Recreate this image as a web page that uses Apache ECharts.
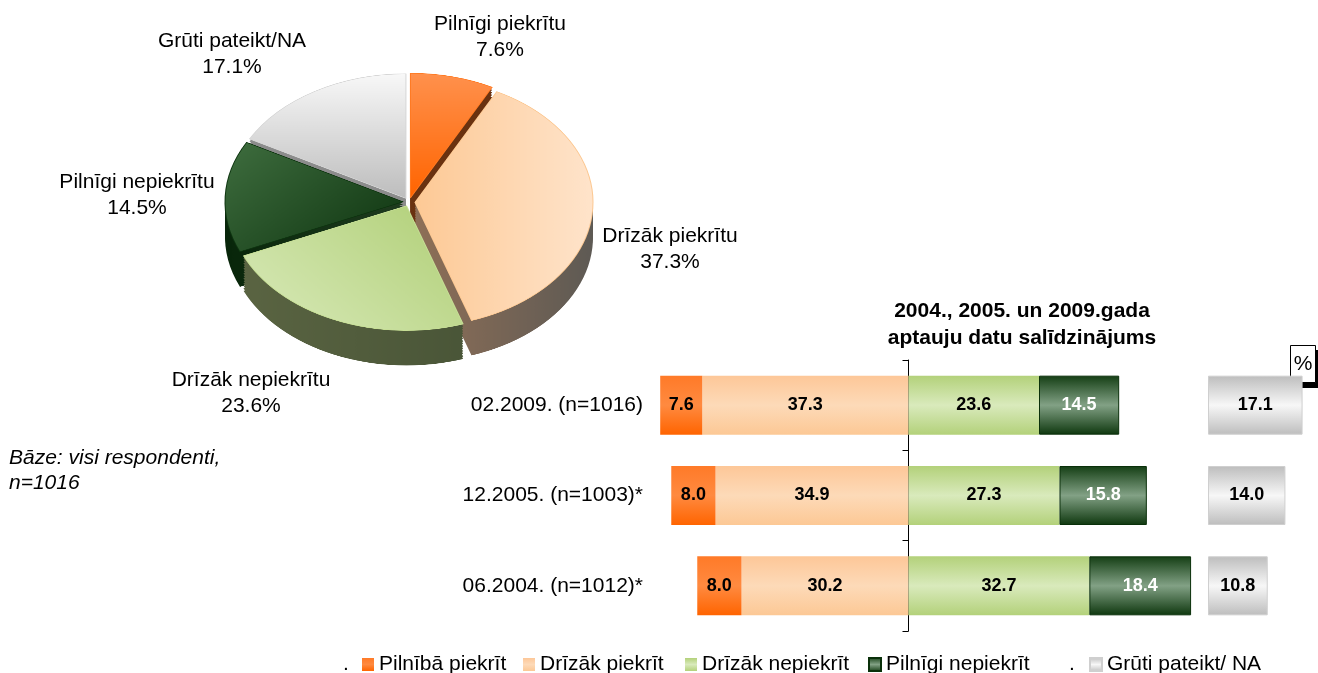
<!DOCTYPE html>
<html>
<head>
<meta charset="utf-8">
<script src="https://cdn.jsdelivr.net/npm/echarts@6/dist/echarts.min.js"></script>
<style>
html, body { margin: 0; padding: 0; background: #fff; }
#main { position: absolute; left: 0; top: 0; width: 1318px; height: 673px; }
/* pie is drawn flat and squashed to get the tilted look */
#pie { position: absolute; left: 189px; top: 62px; width: 440px; height: 460px;
       transform: scaleY(0.70); transform-origin: 0 0; pointer-events: none; }
</style>
</head>
<body>
<div id="main"></div>
<div id="pie"></div>
<script>
const FONT = "'Liberation Sans', Arial, sans-serif";

// 2009 pie
const pieNames = ['Pilnīgi piekrītu', 'Drīzāk piekrītu', 'Drīzāk nepiekrītu', 'Pilnīgi nepiekrītu', 'Grūti pateikt/NA'];
const pieValues = [7.6, 37.3, 23.6, 14.5, 17.1];

// comparison bars
const periods = ['02.2009. (n=1016)', '12.2005. (n=1003)*', '06.2004. (n=1012)*'];
const fullyAgree = [7.6, 8.0, 8.0];
const ratherAgree = [37.3, 34.9, 30.2];
const ratherDisagree = [23.6, 27.3, 32.7];
const fullyDisagree = [14.5, 15.8, 18.4];
const hardToSay = [17.1, 14.0, 10.8];
const legendNames = ['Pilnībā piekrīt', 'Drīzāk piekrīt', 'Drīzāk nepiekrīt', 'Pilnīgi nepiekrīt', 'Grūti pateikt/ NA'];

const lg = (x, y, x2, y2, stops) =>
    new echarts.graphic.LinearGradient(x, y, x2, y2, stops.map((c, i) => ({ offset: i / (stops.length - 1), color: c })));

// ---------- pie ----------
const topColors = [
    lg(0, 0, 0, 1, ['#FF914D', '#FF6400']),
    lg(0, 0, 1, 0, ['#FDC995', '#FFE4CB']),
    lg(0, 1, 1, 0, ['#D9EABA', '#B0CF76']),
    lg(0, 0, 1, 1, ['#3F6E3F', '#0D330F']),
    lg(0, 0, 0, 1, ['#F8F8F8', '#BDBDBD'])
];
const topBorders = ['#FF7A22', '#FCC892', '#C6DE95', '#0E3510', '#D6D6D6'];
const sideColors = [
    '#6A3210',
    lg(0, 0, 1, 0, ['#8E6F57', '#5E5A54']),
    lg(0, 0, 1, 0, ['#5A6442', '#4A5638']),
    lg(0, 0, 1, 0, ['#08260A', '#1F3B1F']),
    '#8C8C8C'
];
const DEPTH = 50, LAYERS = 14, PIE_CY = 200;

function pieLayer(cy, colors, borders, z) {
    return {
        type: 'pie', center: [220, cy], radius: [0, 178], startAngle: 90, clockwise: true,
        selectedMode: 'multiple', selectedOffset: 6, silent: true, z: z,
        avoidLabelOverlap: false,
        label: { show: false }, labelLine: { show: false }, emphasis: { disabled: true },
        data: pieValues.map((v, i) => ({
            name: pieNames[i], value: v, selected: true,
            itemStyle: borders
                ? { color: colors[i], borderColor: borders[i], borderWidth: 1 }
                : { color: colors[i], borderWidth: 0 }
        }))
    };
}

const pieSeries = [];
for (let k = LAYERS; k >= 1; k--) {
    pieSeries.push(pieLayer(PIE_CY + DEPTH * k / LAYERS, sideColors, null, 1));
}
pieSeries.push(pieLayer(PIE_CY, topColors, topBorders, 2));

const pieChart = echarts.init(document.getElementById('pie'), null, { devicePixelRatio: 2 });
pieChart.setOption({ animation: false, series: pieSeries });

// ---------- bars ----------
const PX = 5.53;          // pixels per percent
const X_MIN = -50, X_MAX = 72, GRAY_MAX = 18;
const GRID_LEFT = 908.5 + X_MIN * PX;

const valueLabel = color => ({
    show: true, position: 'inside', color: color,
    fontFamily: FONT, fontWeight: 'bold', fontSize: 18,
    formatter: p => Math.abs(p.value).toFixed(1)
});

const pieLabelPos = [[500, 37], [670, 249], [251, 393], [137, 195], [232, 54]];
const legendLeft = [362, 523, 685, 868, 1089];

const graphics = pieNames.map((n, i) => ({
    type: 'text', silent: true,
    style: {
        text: n + '\n' + pieValues[i].toFixed(1) + '%',
        x: pieLabelPos[i][0], y: pieLabelPos[i][1],
        align: 'center', verticalAlign: 'middle',
        font: '21px ' + FONT, lineHeight: 26, fill: '#000'
    }
}));
graphics.push(
    { type: 'text', silent: true,
      style: { text: '2004., 2005. un 2009.gada\naptauju datu salīdzinājums', x: 1022, y: 325,
               align: 'center', verticalAlign: 'middle', font: 'bold 21px ' + FONT, lineHeight: 27, fill: '#000' } },
    { type: 'text', silent: true,
      style: { text: 'Bāze: visi respondenti,\nn=1016', x: 9, y: 471,
               align: 'left', verticalAlign: 'middle', font: 'italic 21px ' + FONT, lineHeight: 25, fill: '#000' } },
    { type: 'text', silent: true, style: { text: '.', x: 343, y: 664, align: 'left', verticalAlign: 'middle', font: '21px ' + FONT, fill: '#000' } },
    { type: 'text', silent: true, style: { text: '.', x: 1069, y: 664, align: 'left', verticalAlign: 'middle', font: '21px ' + FONT, fill: '#000' } },
    { type: 'rect', silent: true, shape: { x: 1295, y: 350, width: 26, height: 38 }, style: { fill: '#000' } },
    { type: 'rect', silent: true, shape: { x: 1290.5, y: 345.5, width: 25, height: 37 }, style: { fill: '#fff', stroke: '#000', lineWidth: 1 } },
    { type: 'text', silent: true, style: { text: '%', x: 1303, y: 364, align: 'center', verticalAlign: 'middle', font: '21px ' + FONT, fill: '#000' } }
);

const option = {
    animation: false,
    grid: [
        { left: GRID_LEFT, top: 360, width: (X_MAX - X_MIN) * PX, height: 271 },
        { left: 1208, top: 360, width: GRAY_MAX * PX, height: 271 }
    ],
    xAxis: [
        { type: 'value', gridIndex: 0, min: X_MIN, max: X_MAX, show: false },
        { type: 'value', gridIndex: 1, min: 0, max: GRAY_MAX, show: false }
    ],
    yAxis: [
        {
            type: 'category', gridIndex: 0, data: periods, inverse: true,
            axisLine: { show: true, onZero: true, lineStyle: { color: '#000', width: 1 } },
            axisTick: { show: true, length: 6, lineStyle: { color: '#000' } },
            // labels are laid out from the grid edge, not from the zero line
            axisLabel: { margin: GRID_LEFT - 643, fontFamily: FONT, fontSize: 21, color: '#000' }
        },
        { type: 'category', gridIndex: 1, data: periods, inverse: true, show: false }
    ],
    legend: legendNames.map((n, i) => ({
        data: [n], left: legendLeft[i], top: 654, padding: 0, itemGap: 0,
        itemWidth: 12, itemHeight: 13, icon: 'rect', selectedMode: false,
        textStyle: { fontFamily: FONT, fontSize: 21, color: '#000' }
    })),
    series: [
        {
            name: 'Drīzāk piekrīt', type: 'bar', stack: 'all', barWidth: 59,
            data: ratherAgree.map(v => -v),
            itemStyle: { color: lg(0, 0, 0, 1, ['#FDC798', '#FDDAB8', '#FCC895']) },
            label: valueLabel('#000')
        },
        {
            name: 'Pilnībā piekrīt', type: 'bar', stack: 'all', barWidth: 59,
            data: fullyAgree.map(v => -v),
            itemStyle: { color: lg(0, 0, 0, 1, ['#FF7A28', '#FF8A40', '#FF6400']) },
            label: valueLabel('#000')
        },
        {
            name: 'Drīzāk nepiekrīt', type: 'bar', stack: 'all', barWidth: 59,
            data: ratherDisagree,
            itemStyle: { color: lg(0, 0, 0, 1, ['#B3D17A', '#D9EABC', '#B3D17A']) },
            label: valueLabel('#000')
        },
        {
            name: 'Pilnīgi nepiekrīt', type: 'bar', stack: 'all', barWidth: 59,
            data: fullyDisagree,
            itemStyle: { color: lg(0, 0, 0, 1, ['#143E14', '#82A185', '#0E370E']), borderColor: '#0A300A', borderWidth: 1 },
            label: valueLabel('#fff')
        },
        {
            name: 'Grūti pateikt/ NA', type: 'bar', xAxisIndex: 1, yAxisIndex: 1, barWidth: 59,
            data: hardToSay,
            itemStyle: { color: lg(0, 0, 0, 1, ['#BDBDBD', '#F7F7F7', '#BDBDBD']), borderColor: '#CFCFCF', borderWidth: 1 },
            label: valueLabel('#000')
        }
    ],
    graphic: graphics
};

const chart = echarts.init(document.getElementById('main'));
chart.setOption(option);
window.addEventListener('resize', () => { chart.resize(); pieChart.resize(); });
</script>
</body>
</html>
